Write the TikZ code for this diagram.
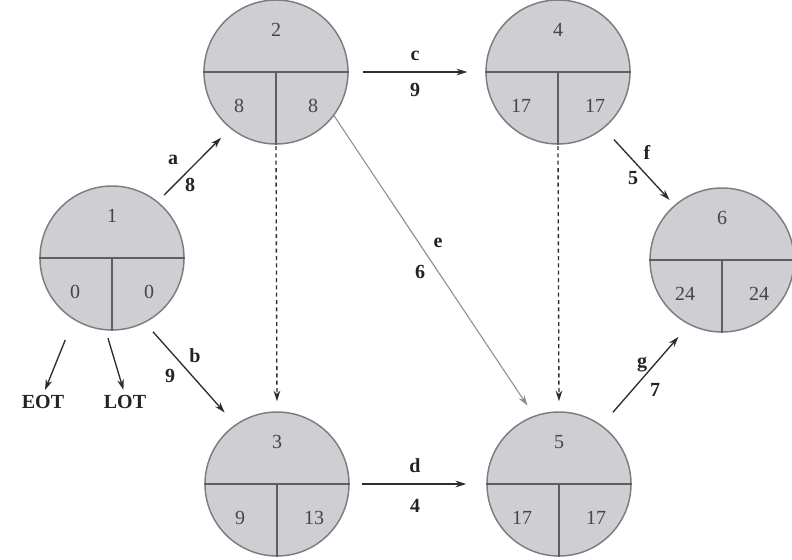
\documentclass[tikz,border=0pt]{standalone}
\usepackage{fontspec}
\setmainfont{Liberation Serif}
\usetikzlibrary{arrows.meta,calc}
\definecolor{cfill}{RGB}{206,206,211}
\definecolor{cborder}{RGB}{125,125,128}
\definecolor{cdiv}{RGB}{95,95,98}
\definecolor{cnum}{RGB}{70,70,72}
\definecolor{cline}{RGB}{45,45,45}
\definecolor{clab}{RGB}{35,35,35}
\definecolor{cgrayline}{RGB}{140,140,140}
\tikzset{
  circ/.style={circle, draw=cborder, fill=cfill, line width=1.1pt, minimum size=108pt, inner sep=0pt},
  div/.style={draw=cdiv, line width=1pt},
  num/.style={text=cnum, font=\fontsize{15}{18}\selectfont, inner sep=0pt},
  lab/.style={text=clab, font=\fontsize{15}{18}\selectfont\bfseries, inner sep=0pt},
  arr/.style={-{Stealth[length=8pt,width=5pt]}, line width=1pt, draw=cline},
  grayarr/.style={-{Stealth[length=8pt,width=5pt]}, line width=0.8pt, draw=cgrayline},
  dasharr/.style={-{Stealth[length=8pt,width=5pt]}, line width=1pt, draw=cline, dash pattern=on 3pt off 2.5pt},
}
\newcommand\pertnode[6]{%
  \node[circ] (#1) at (#2,#3) {};
  \draw[div] (#1.west) -- (#1.east) (#1.center) -- (#1.south);
  \node[num] (#1t) at ($(#1)+(0,-42)$) {#4};
  \node[num] (#1l) at ($(#1)+(-37,34)$) {#5};
  \node[num] (#1r) at ($(#1)+(37,34)$) {#6};
}
\begin{document}
\begin{tikzpicture}[x=0.75pt,y=-0.75pt]
\useasboundingbox (0,0) rectangle (792,560);
\fill[white] (0,0) rectangle (792,560);
\pertnode{n1}{112}{258}{1}{0}{0}
\pertnode{n2}{276}{72}{2}{8}{8}
\pertnode{n3}{277}{484}{3}{9}{13}
\pertnode{n4}{558}{72}{4}{17}{17}
\pertnode{n5}{559}{484}{5}{17}{17}
\pertnode{n6}{722}{260}{6}{24}{24}
% outputs
\node[lab] (eot) at (43,402) {EOT};
\node[lab] (lot) at (125,402) {LOT};
\draw[arr, shorten <=16.5pt, shorten >=4pt] (n1.238) -- (eot.north);
\draw[arr, shorten <=6pt, shorten >=4pt] (n1.265) -- (lot.north);
% activities
\draw[arr, shorten <=6.75pt, shorten >=9.75pt] (n1.51) -- (n2.231);
\node[lab] (la) at (173,160) {a};
\node[lab] (l8) at (190,185) {8};
\draw[arr, shorten <=9pt, shorten >=12pt] (n1.-63) -- (n3.125);
\node[lab] (lb) at (195,356) {b};
\node[lab] (l9) at (170,376) {9};
\draw[arr, shorten <=10.5pt, shorten >=13.5pt] (n2.east) -- (n4.west);
\node[lab] (lc) at (415,56) {c};
\node[lab] (l9b) at (415,90) {9};
\draw[arr, shorten <=9pt, shorten >=15pt] (n3.east) -- (n5.west);
\node[lab] (ld) at (415,466) {d};
\node[lab] (l4) at (415,506) {4};
\draw[grayarr, shorten >=9pt] (n2.-37) -- (n5.110);
\node[lab] (le) at (438,243) {e};
\node[lab] (l6) at (420,272) {6};
\draw[arr, shorten <=11.25pt, shorten >=5.25pt] (n4.-51) -- (n6.131);
\node[lab] (lf) at (647,152) {f};
\node[lab] (l5) at (633,178) {5};
\draw[arr, shorten <=12.75pt, shorten >=12pt] (n5.54) -- (n6.243);
\node[lab] (lg) at (642,365) {g};
\node[lab] (l7) at (655,390) {7};
% dummies
\draw[dasharr, shorten <=1pt, shorten >=7.5pt] (n2.south) -- (n3.north);
\draw[dasharr, shorten <=1pt, shorten >=7.5pt] (n4.south) -- (n5.north);
\end{tikzpicture}
\end{document}
